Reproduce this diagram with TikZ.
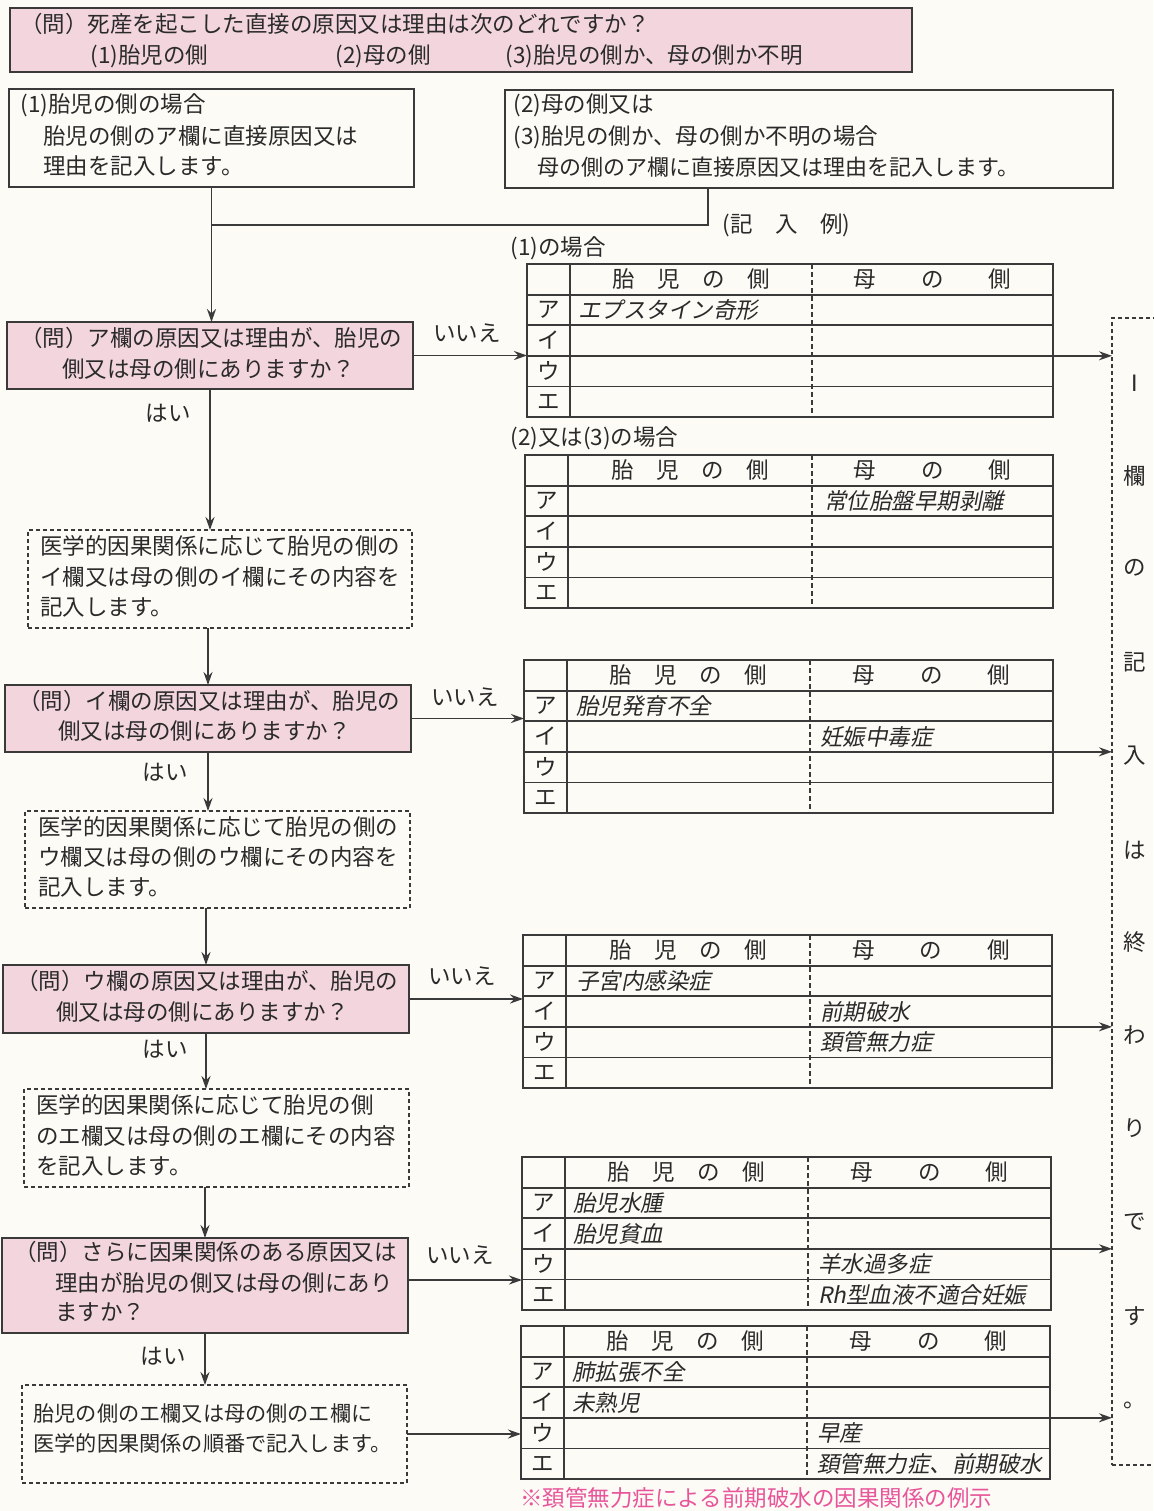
\documentclass[tikz,border=0pt]{standalone}
\usepackage{fontspec}
\setmainfont{Noto Sans CJK JP}
\newfontfamily\itfont{Noto Sans CJK JP}[FakeSlant=0.2]
\usetikzlibrary{fit,arrows.meta}
\definecolor{lc}{HTML}{3A3A3A}
\definecolor{tc}{HTML}{2A2A2A}
\definecolor{pk}{HTML}{F3D6DD}
\definecolor{bgc}{HTML}{FCFBF6}
\definecolor{rednote}{HTML}{E8559A}
\newcommand\jfs{\fontsize{11.25pt}{13pt}\selectfont}
\tikzset{
 base/.style={inner sep=0pt, outer sep=0pt},
 pinkbox/.style={base, draw=lc, fill=pk, line width=1pt},
 wbox/.style={base, draw=lc, line width=1pt},
 dbox/.style={base, draw=lc, line width=0.7pt, dash pattern=on 2pt off 1.5pt},
 tabbox/.style={base, draw=lc, line width=0.9pt},
 tabline/.style={draw=lc, line width=0.9pt},
 tabdiv/.style={draw=lc, line width=0.6pt, dash pattern=on 2.5pt off 1.5pt},
 txt/.style={inner sep=0pt, anchor=west, text=tc, font=\jfs},
 ctxt/.style={inner sep=0pt, text=tc, font=\jfs},
 itx/.style={inner sep=0pt, anchor=west, text=tc, font=\jfs\itfont},
 arr/.style={draw=lc, line width=0.9pt, -{Stealth[length=6.5pt,width=4.5pt]}},
 conn/.style={draw=lc, line width=0.9pt},
}
% table: name, x0, y0, x1, xdiv
\newcommand\jtab[5]{%
 \node[tabbox, fit={(#2,#3) (#4,#3+153)}] (#1) {};
 \foreach \i in {1,2,3,4} {\draw[tabline] (#2,#3+30.6*\i) -- (#4,#3+30.6*\i);}
 \draw[tabline] (#2+43,#3) -- (#2+43,#3+153);
 \draw[tabdiv] (#5,#3) -- (#5,#3+153);
 \node[ctxt] (#1hf) at ({(#2+43+#5)/2},#3+15.3) {胎　児　の　側};
 \node[ctxt] (#1hm) at ({(#5+#4)/2},#3+15.3) {母　　の　　側};
 \foreach \k [count=\i] in {ア,イ,ウ,エ} {\node[ctxt] (#1l\i) at (#2+21.5,#3+15.3+30.6*\i) {\k};}
 \foreach \i in {1,2,3,4} {\coordinate (#1r\i) at (#4,#3+30.6*\i);}
}
\begin{document}
\begin{tikzpicture}[x=0.5pt,y=-0.5pt]
\useasboundingbox (0,0) rectangle (1153,1511);
\fill[bgc] (0,0) rectangle (1153,1511);

% top question
\node[pinkbox, fit={(10,8) (912,72)}] (top) {};
\node[txt] (top1) at (20,24) {（問）死産を起こした直接の原因又は理由は次のどれですか？};
\node[txt] (top2) at (90,56) {(1)胎児の側};
\node[txt] (top3) at (335,56) {(2)母の側};
\node[txt] (top4) at (505,56) {(3)胎児の側か、母の側か不明};

% box A / B
\node[wbox, fit={(9,89) (414,187)}] (boxA) {};
\node[txt] (a1) at (20,105) {(1)胎児の側の場合};
\node[txt] (a2) at (43,136) {胎児の側のア欄に直接原因又は};
\node[txt] (a3) at (43,166) {理由を記入します。};
\node[wbox, fit={(505,90) (1113,188)}] (boxB) {};
\node[txt] (b1) at (513,105) {(2)母の側又は};
\node[txt] (b2) at (513,137) {(3)胎児の側か、母の側か不明の場合};
\node[txt, font=\fontsize{11pt}{13pt}\selectfont] (b3) at (537,167) {母の側のア欄に直接原因又は理由を記入します。};

\node[txt] (rei) at (722,225) {(記　入　例)};
\node[txt] (case1) at (510,248) {(1)の場合};
\node[txt] (case2) at (510,438) {(2)又は(3)の場合};

% question / instruction boxes
\node[pinkbox, fit={(7,322) (413,389)}] (q1) {};
\node[txt] (q1a) at (20,338) {（問）ア欄の原因又は理由が、胎児の};
\node[txt] (q1b) at (62,369) {側又は母の側にありますか？};

\node[dbox, fit={(28,530) (412,628)}] (d1) {};
\node[txt] (d1a) at (40,546) {医学的因果関係に応じて胎児の側の};
\node[txt] (d1b) at (40,577) {イ欄又は母の側のイ欄にその内容を};
\node[txt] (d1c) at (40,607) {記入します。};

\node[pinkbox, fit={(5,685) (411,752)}] (q2) {};
\node[txt] (q2a) at (18,701) {（問）イ欄の原因又は理由が、胎児の};
\node[txt] (q2b) at (58,731) {側又は母の側にありますか？};

\node[dbox, fit={(25,811) (410,908)}] (d2) {};
\node[txt] (d2a) at (38,827) {医学的因果関係に応じて胎児の側の};
\node[txt] (d2b) at (38,857) {ウ欄又は母の側のウ欄にその内容を};
\node[txt] (d2c) at (38,887) {記入します。};

\node[pinkbox, fit={(3,965) (409,1033)}] (q3) {};
\node[txt] (q3a) at (16,981) {（問）ウ欄の原因又は理由が、胎児の};
\node[txt] (q3b) at (56,1012) {側又は母の側にありますか？};

\node[dbox, fit={(24,1089) (409,1187)}] (d3) {};
\node[txt] (d3a) at (36,1105) {医学的因果関係に応じて胎児の側};
\node[txt] (d3b) at (36,1136) {のエ欄又は母の側のエ欄にその内容};
\node[txt] (d3c) at (36,1166) {を記入します。};

\node[pinkbox, fit={(2,1238) (408,1333)}] (q4) {};
\node[txt] (q4a) at (14,1252) {（問）さらに因果関係のある原因又は};
\node[txt] (q4b) at (55,1283) {理由が胎児の側又は母の側にあり};
\node[txt] (q4c) at (55,1312) {ますか？};

\node[dbox, fit={(22,1385) (407,1483)}] (d4) {};
\node[txt, font=\fontsize{10.6pt}{13pt}\selectfont] (d4a) at (33,1413) {胎児の側のエ欄又は母の側のエ欄に};
\node[txt, font=\fontsize{10.6pt}{13pt}\selectfont] (d4b) at (33,1443) {医学的因果関係の順番で記入します。};

% yes / no labels
\node[ctxt] (yes1) at (168,413) {はい};
\node[ctxt] (yes2) at (165,772) {はい};
\node[ctxt] (yes3) at (165,1049) {はい};
\node[ctxt] (yes4) at (163,1356) {はい};
\node[ctxt] (no1) at (467,333) {いいえ};
\node[ctxt] (no2) at (465,697) {いいえ};
\node[ctxt] (no3) at (462,976) {いいえ};
\node[ctxt] (no4) at (460,1255) {いいえ};

% tables
\jtab{t1}{527}{264}{1053}{812}
\node[itx] (t1c1) at (578,310) {エプスタイン奇形};

\jtab{t2}{525}{455}{1053}{812}
\node[itx] (t2c1) at (824,501) {常位胎盤早期剥離};

\jtab{t3}{524}{660}{1053}{810}
\node[itx] (t3c1) at (576,706) {胎児発育不全};
\node[itx] (t3c2) at (820,736.5) {妊娠中毒症};

\jtab{t4}{523}{935}{1052}{810}
\node[itx] (t4c1) at (576,981) {子宮内感染症};
\node[itx] (t4c2) at (820,1011.5) {前期破水};
\node[itx] (t4c3) at (820,1042) {頚管無力症};

\jtab{t5}{522}{1157}{1051}{808}
\node[itx] (t5c1) at (573,1203) {胎児水腫};
\node[itx] (t5c2) at (573,1233.5) {胎児貧血};
\node[itx] (t5c3) at (818,1264) {羊水過多症};
\node[itx] (t5c4) at (818,1294.7) {Rh型血液不適合妊娠};

\jtab{t6}{521}{1326}{1050}{807}
\node[itx] (t6c1) at (572,1372) {肺拡張不全};
\node[itx] (t6c2) at (572,1402.5) {未熟児};
\node[itx] (t6c3) at (817,1433) {早産};
\node[itx] (t6c4) at (817,1463.7) {頚管無力症、前期破水};

\node[txt, text=rednote] (note) at (520,1498) {※頚管無力症による前期破水の因果関係の例示};

% end box
\node[dbox, fit={(1112,318) (1170,1465)}] (endb) {};
\foreach \c/\yy in {Ⅰ/383,欄/476,の/568,記/662,入/756,は/850,終/942,わ/1035,り/1128,で/1222,す/1316,。/1405}
 {\node[ctxt] (ev\yy) at (1135,\yy) {\c};}

% connectors
\coordinate (j) at (211.5,225);
\coordinate (jb) at (708,225);
\coordinate (q4o) at ([yshift=2.75pt]q4.east);
\draw[conn] (boxA.south) -- (j);
\draw[conn] (boxB.south -| jb) -- (jb) -- (j);
\draw[arr] (j) -- (j |- q1.north);
\draw[arr] (q1.south) -- (q1.south |- d1.north);
\draw[arr] (q1.east) -- (q1.east -| t1.west);
\draw[arr] (d1.south -| q2.north) -- (q2.north);
\draw[arr] (q2.south) -- (q2.south |- d2.north);
\draw[arr] (q2.east) -- (q2.east -| t3.west);
\draw[arr] (d2.south -| q3.north) -- (q3.north);
\draw[arr] (q3.south) -- (q3.south |- d3.north);
\draw[arr] (q3.east) -- (q3.east -| t4.west);
\draw[arr] (d3.south -| q4.north) -- (q4.north);
\draw[arr] (q4.south) -- (q4.south |- d4.north);
\draw[arr] (q4o) -- (q4o -| t5.west);
\draw[arr] (d4.east) -- (d4.east -| t6.west);
\draw[arr] (t1r3) -- (t1r3 -| endb.west);
\draw[arr] (t3r3) -- (t3r3 -| endb.west);
\draw[arr] (t4r3) -- (t4r3 -| endb.west);
\draw[arr] (t5r3) -- (t5r3 -| endb.west);
\draw[arr] (t6r3) -- (t6r3 -| endb.west);
\end{tikzpicture}
\end{document}
